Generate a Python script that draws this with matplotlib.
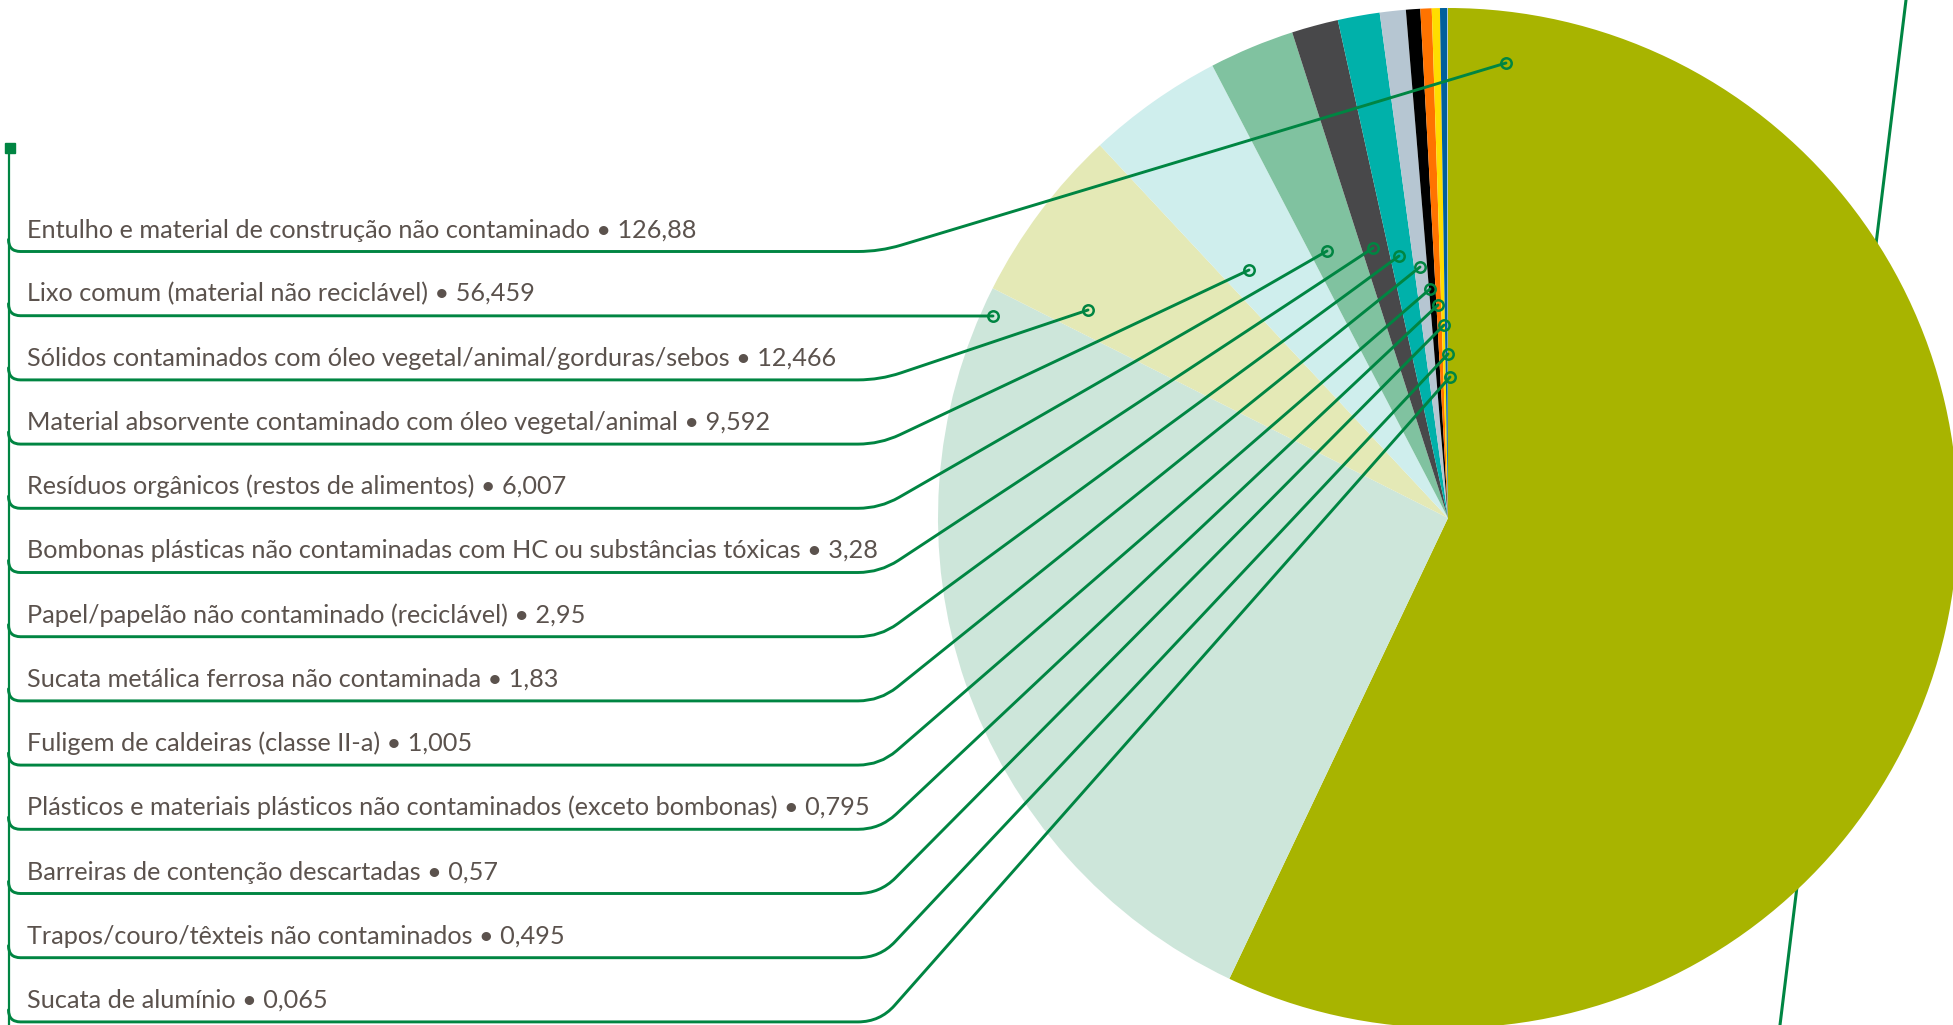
import matplotlib
matplotlib.use("Agg")
import matplotlib.pyplot as plt
from matplotlib.path import Path
from matplotlib.patches import PathPatch
import numpy as np

# data (tonnes), in the order of the list on the left
categories = [
    "Entulho e material de construção não contaminado",
    "Lixo comum (material não reciclável)",
    "Sólidos contaminados com óleo vegetal/animal/gorduras/sebos",
    "Material absorvente contaminado com óleo vegetal/animal",
    "Resíduos orgânicos (restos de alimentos)",
    "Bombonas plásticas não contaminadas com HC ou substâncias tóxicas",
    "Papel/papelão não contaminado (reciclável)",
    "Sucata metálica ferrosa não contaminada",
    "Fuligem de caldeiras (classe II-a)",
    "Plásticos e materiais plásticos não contaminados (exceto bombonas)",
    "Barreiras de contenção descartadas",
    "Trapos/couro/têxteis não contaminados",
    "Sucata de alumínio",
]
values = [126.88, 56.459, 12.466, 9.592, 6.007, 3.28, 2.95, 1.83, 1.005, 0.795, 0.57, 0.495, 0.065]
colors = ['#a8b400', '#cde6da', '#e4e9b6', '#cfeeed', '#80c2a0', '#48484a', '#00b1aa',
          '#b6c6d2', '#000000', '#ff7300', '#ffdd00', '#005f9c', '#a9c6de']

# layout (pixels, image coordinates)
W, H = 1953, 1025
GREEN = '#008542'
TEXT = '#5b524d'
center = (1448, 518)
radius = 510
row_y0, row_step = 251.5, 64.2
corner_x = 880
# where each leader line ends on the pie
anchor_x = [1506, 993, 1088, 1249, 1327, 1373, 1399, 1420, 1430, 1438, 1444, 1448, 1450]
anchor_y = [63, 316, 310, 270, 251, 248, 256, 267, 289, 305, 325, 354, 377]

fig = plt.figure(figsize=(W / 100, H / 100), dpi=100)
ax = fig.add_axes([0, 0, 1, 1])

# pie (y axis is flipped, so start at -90 and go "counterclockwise")
ax.pie(values, colors=colors, startangle=-90, counterclock=True,
       center=center, radius=radius, frame=True,
       wedgeprops=dict(linewidth=0, zorder=2))

# green line passing behind the pie
ax.plot([1906, 1780], [0, H], color=GREEN, lw=2.2, zorder=1)

# vertical spine of the list
ax.plot([8.5, 8.5], [148, H + 5], color=GREEN, lw=1.6, zorder=3)
ax.plot([9.5], [148], marker='s', ms=6.5, color=GREEN, zorder=4)

r_left = 12
d = 22
for i, (name, v) in enumerate(zip(categories, values)):
    y = row_y0 + i * row_step
    txt = f"{name} \u2022 {v:g}".replace('.', ',')
    ax.text(27, y - 14, txt, fontsize=18.2, color=TEXT, family='Lato',
            va='baseline', ha='left', zorder=5)

    ex, ey = anchor_x[i], anchor_y[i]
    verts = [(8.5, y - r_left), (8.5, y), (8.5 + r_left, y)]
    codes = [Path.MOVETO, Path.CURVE3, Path.CURVE3]
    if abs(ey - y) < 3:
        verts.append((ex, ey))
        codes.append(Path.LINETO)
    else:
        vx, vy = ex - corner_x, ey - y
        n = np.hypot(vx, vy)
        verts += [(corner_x - d, y), (corner_x, y),
                  (corner_x + d * vx / n, y + d * vy / n), (ex, ey)]
        codes += [Path.LINETO, Path.CURVE3, Path.CURVE3, Path.LINETO]
    ax.add_patch(PathPatch(Path(verts, codes), fill=False, edgecolor=GREEN,
                           lw=2.1, zorder=4, capstyle='round'))
    ax.plot([ex], [ey], marker='o', ms=7.5, mfc='none', mec=GREEN, mew=1.8, zorder=6)

ax.set_xlim(0, W)
ax.set_ylim(H, 0)
ax.set_aspect('equal')
ax.axis('off')

fig.savefig("out.png", dpi=100, facecolor='white')
